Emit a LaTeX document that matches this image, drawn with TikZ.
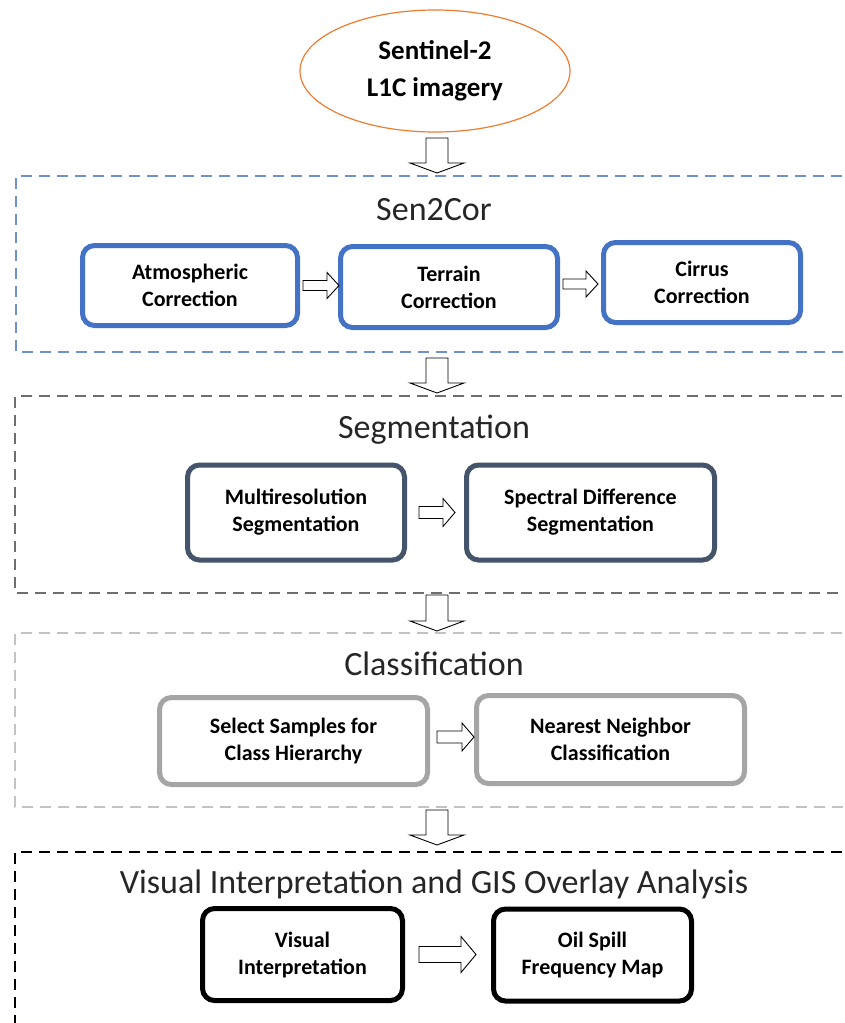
\documentclass[tikz,border=0pt]{standalone}
\usepackage{fontspec}
\setmainfont{Carlito}
\usetikzlibrary{shapes.geometric,calc}
\definecolor{orng}{HTML}{ED7D31}
\definecolor{bluebox}{HTML}{4472C4}
\definecolor{bluedash}{RGB}{110,145,200}
\definecolor{slatebox}{HTML}{44546A}
\definecolor{segdash}{RGB}{110,110,110}
\definecolor{clsbox}{HTML}{A5A5A5}
\definecolor{clsdash}{RGB}{195,195,195}
\tikzset{
  procbox/.style={draw, rounded corners=12pt, line width=5pt, fill=white,
    align=center, inner sep=0pt, font=\bfseries\fontsize{22}{27}\selectfont},
  groupframe/.style={dashed, line width=2pt, dash pattern=on 11pt off 7pt},
  grouptitle/.style={font=\fontsize{34}{36}\selectfont, inner sep=0pt, text=black!85},
  blockarrowstyle/.style={draw=black, fill=white, line width=0.9pt, line join=miter},
  pics/blockarrow/.style n args={4}{code={
    \draw[blockarrowstyle] (0,-#2) -- (#1-#3,-#2) -- (#1-#3,-#4) -- (#1,0)
      -- (#1-#3,#4) -- (#1-#3,#2) -- (0,#2) -- cycle;}}
}
\begin{document}
\begin{tikzpicture}[x=1pt,y=-1pt]
\useasboundingbox (0,0) rectangle (845,1023);
\clip (0,0) rectangle (845,1023);
\fill[white] (0,0) rectangle (845,1023);

% input ellipse
\node[ellipse, draw=orng, line width=1.2pt, minimum width=270pt, minimum height=122pt,
  align=center, font=\bfseries\fontsize{27}{37}\selectfont] (src) at (435,71)
  {Sentinel-2\\L1C imagery};

% group frames
\draw[groupframe, draw=bluedash] (860,176) -- (16,176) -- (16,352) -- (860,352);
\draw[groupframe, draw=segdash] (860,396) -- (15,396) -- (15,593) -- (860,593);
\draw[groupframe, draw=clsdash] (860,633) -- (15,633) -- (15,807) -- (860,807);
\draw[groupframe, draw=black] (860,852) -- (15,852) -- (15,1040);

% titles
\node[grouptitle] (t1) at (434,210) {Sen2Cor};
\node[grouptitle] (t2) at (434,430) {Segmentation};
\node[grouptitle] (t3) at (434,664) {Classification};
\node[grouptitle] (t4) at (434,884) {Visual Interpretation and GIS Overlay Analysis};

% Sen2Cor
\node[procbox, draw=bluebox, minimum width=215pt, minimum height=80pt] (a1) at (190,285.5) {Atmospheric\\Correction};
\node[procbox, draw=bluebox, minimum width=217pt, minimum height=81pt] (a2) at (449,287) {Terrain\\Correction};
\node[procbox, draw=bluebox, minimum width=197pt, minimum height=80pt] (a3) at (702,282.5) {Cirrus\\Correction};

% Segmentation
\node[procbox, draw=slatebox, minimum width=217pt, minimum height=95pt] (s1) at (296,512.5) {Multiresolution\\Segmentation};
\node[procbox, draw=slatebox, minimum width=248pt, minimum height=95pt] (s2) at (590.5,512.5) {Spectral Difference\\Segmentation};

% Classification
\node[procbox, draw=clsbox, minimum width=268pt, minimum height=87pt] (c1) at (293.5,741) {Select Samples for\\Class Hierarchy};
\node[procbox, draw=clsbox, minimum width=268pt, minimum height=88pt] (c2) at (610.5,739.5) {Nearest Neighbor\\Classification};

% Visual interpretation
\node[procbox, draw=black, minimum width=200pt, minimum height=92pt] (v1) at (302.5,954.5) {Visual\\Interpretation};
\node[procbox, draw=black, minimum width=198pt, minimum height=92pt] (v2) at (592.5,955) {Oil Spill\\Frequency Map};

% down arrows between stages
\pic[rotate=-90] at (437,138) {blockarrow={35}{11}{10}{27}};
\pic[rotate=-90] at (437,358) {blockarrow={35}{11}{10}{27}};
\pic[rotate=-90] at (437,595) {blockarrow={36}{11}{10}{27}};
\pic[rotate=-90] at (437,810) {blockarrow={35}{11}{10}{27}};

% right arrows inside stages
\pic at ($(a1.east)+(3,0)$) {blockarrow={36}{5}{12}{13}};
\pic at ($(a2.east)+(3,-3)$) {blockarrow={35}{5}{12}{13}};
\pic at ($(s1.east)+(12,0)$) {blockarrow={36}{6}{12}{14}};
\pic at ($(c1.east)+(7,-4)$) {blockarrow={37}{6}{12}{14}};
\pic at ($(v1.east)+(14,0)$) {blockarrow={57}{8}{15}{18}};
\end{tikzpicture}
\end{document}
